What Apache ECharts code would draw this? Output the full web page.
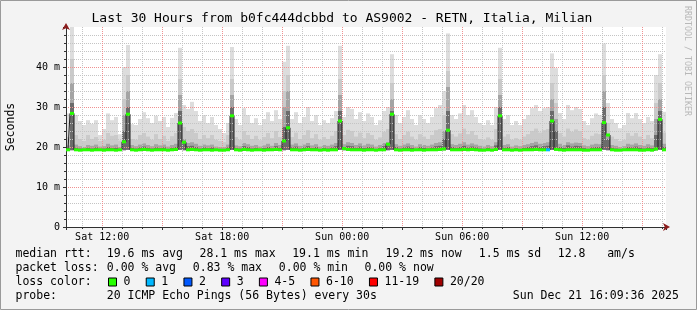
<!DOCTYPE html>
<html>
<head>
<meta charset="utf-8">
<script src="https://cdn.jsdelivr.net/npm/echarts@6/dist/echarts.min.js"></script>
<style>
html, body { margin: 0; padding: 0; background: #f3f3f3; }
#chart { width: 697px; height: 310px; }
</style>
</head>
<body>
<div id="chart"></div>
<script>
// time axis in hours since Sat 00:00, one column = 12 min
const startHour = 10.19;
const stepHours = 0.2;

const maxRtt = [
  28.4,50,28,26.5,25.5,26.7,25.8,26.7,23,24.5,
  28.4,26.7,27.5,23.2,40,45.5,25.7,25.5,27,28.7,
  27.2,26,27.8,26.5,27.5,25,27.3,28.5,44.8,30.5,
  29.5,31.3,29,26.5,28,26,27.5,25.5,24.5,23.5,
  26,45,27,25.5,29.7,28,26,27.2,25.5,27,
  28.7,26.5,29.2,27,41.3,45.3,27,28.7,26,27.5,
  30,26.5,28,25.5,26.7,26,27.2,29,45.3,27.5,
  30,29.5,27,28.7,26.5,28.4,27.5,25.5,26.7,29,
  30,43.2,28,26,27.5,29.2,27,25.5,28,27,
  26,27.5,29.7,30.5,34,48.4,28,27,28.4,30.5,
  28,29.2,27.5,26,25.5,26.7,25.5,30,44.8,27,
  28,25.5,26.5,25.5,27,28,29.7,30.5,29,29.7,
  30,43.4,39.7,28.5,27,30.5,29.2,30,29.5,26.5,
  25.5,27.2,28.4,28,45.9,31,27,26,24.7,25.5,
  28.5,27.2,28.5,27,26,27.5,26.5,38,43.2,28.8
];
const ping19 = [
  22.5,42,23,22,21.5,23,22,22.5,21.5,21.8,
  23.5,22.8,23,21.6,32,38,22,21.8,23,23.5,
  22.6,21.8,23.2,22,22.8,21.5,22.7,23.5,37,25,
  24,24.5,23.5,22,23,22.2,23,21.8,21.5,21.2,
  23,37,22.5,21.8,24,23,22,22.8,21.7,22.5,
  23.5,22.2,24,22.5,34,38,22.5,23.6,22,23,
  24.2,22.2,23.2,21.8,22.5,22,22.8,24,37,23,
  24.3,24,22.6,23.6,22.2,23.5,23,21.8,22.4,23.8,
  24.5,36,23.2,22,23,23.8,22.6,21.8,23.2,22.6,
  22,23,24.2,24.5,28,39,23.2,22.6,23.4,24.6,
  23.2,24,23,22,21.8,22.4,21.8,24.5,37,22.6,
  23.2,21.8,22.2,21.8,22.6,23.2,24,24.6,23.6,24.2,
  24.5,36,31,23.5,22.6,24.6,23.8,24.4,24,22.2,
  21.8,22.8,23.4,23.2,38,26,22.6,22,21.5,21.8,
  23.5,22.8,23.5,22.6,22,23,22.2,31,36,23.6
];
const ping17 = [
  20.4,36,20.6,20.2,20,20.5,20.3,20.6,20.1,20.2,
  20.8,20.4,20.6,20,28,34,20.5,20.2,20.6,20.9,
  20.5,20.2,20.7,20.4,20.6,20.1,20.5,20.8,33,22,
  21,21.2,20.8,20.3,20.6,20.4,20.6,20.1,20,20,
  20.6,33,20.4,20.2,21,20.7,20.3,20.5,20.1,20.4,
  20.8,20.3,21,20.5,30,34,20.6,20.9,20.3,20.6,
  21,20.4,20.7,20.1,20.5,20.3,20.6,21,33,20.7,
  21.2,21,20.5,20.9,20.4,20.8,20.6,20.1,20.5,21,
  21.2,32,20.7,20.3,20.6,20.9,20.5,20.1,20.7,20.5,
  20.3,20.6,21,21.2,24,35,20.7,20.5,20.8,21.2,
  20.6,20.9,20.6,20.3,20.1,20.5,20.2,21.2,33,20.5,
  20.7,20.1,20.4,20.2,20.5,20.7,21,21.3,20.8,21,
  21.2,32,27,20.8,20.5,21.2,20.9,21.1,21,20.4,
  20.2,20.6,20.8,20.7,34,23,20.5,20.3,20,20.2,
  20.8,20.6,20.9,20.5,20.3,20.7,20.4,27,32,20.8
];
const ping15 = [
  19.7,31,19.8,19.6,19.5,19.8,19.6,19.9,19.5,19.6,
  20,19.7,19.8,19.5,24,30,19.8,19.6,19.9,20.1,
  19.8,19.6,19.9,19.7,19.9,19.5,19.8,20,29,21,
  20.2,20.3,20,19.6,19.9,19.7,19.9,19.5,19.5,19.5,
  19.9,30,19.7,19.6,20.2,20,19.6,19.8,19.5,19.7,
  20,19.6,20.2,19.8,25,29,19.9,20.1,19.6,19.9,
  20.2,19.7,20,19.5,19.8,19.6,19.9,20.2,29,20,
  20.3,20.2,19.8,20.1,19.7,20,19.9,19.5,19.8,20.2,
  20.4,29,20,19.6,19.9,20.1,19.8,19.5,20,19.8,
  19.6,19.9,20.2,20.3,22,29,20,19.8,20,20.3,
  19.9,20.1,19.9,19.6,19.5,19.8,19.5,20.4,30,19.8,
  20,19.5,19.7,19.5,19.8,20,20.2,20.4,20,20.2,
  20.3,29,24,20,19.8,20.4,20.1,20.3,20.2,19.7,
  19.5,19.9,20,20,30,22,19.8,19.6,19.5,19.5,
  20,19.9,20.1,19.8,19.6,19.9,19.7,23,29,20
];
const minRtt = [
  19.1,19.2,19.1,19.0,19.1,19.1,19.0,19.1,19.1,19.0,
  19.1,19.1,19.0,19.1,19.2,19.3,19.1,19.0,19.1,19.1,
  19.0,19.1,19.1,19.1,19.0,19.1,19.1,19.0,19.3,19.2,
  19.1,19.1,19.0,19.1,19.1,19.0,19.1,19.1,19.0,19.1,
  19.1,19.3,19.1,19.0,19.1,19.1,19.0,19.1,19.1,19.0,
  19.1,19.1,19.0,19.1,19.2,19.3,19.1,19.0,19.1,19.1,
  19.0,19.1,19.1,19.1,19.0,19.1,19.1,19.0,19.3,19.2,
  19.1,19.1,19.0,19.1,19.1,19.0,19.1,19.1,19.0,19.1,
  19.2,19.3,19.1,19.0,19.1,19.1,19.0,19.1,19.1,19.0,
  19.1,19.1,19.0,19.1,19.2,19.3,19.1,19.0,19.1,19.1,
  19.0,19.1,19.1,19.1,19.0,19.1,19.1,19.0,19.3,19.1,
  19.1,19.1,19.0,19.1,19.1,19.0,19.1,19.1,19.0,19.1,
  19.1,19.3,19.2,19.1,19.0,19.1,19.1,19.0,19.1,19.1,
  19.0,19.1,19.1,19.1,19.3,19.2,19.1,19.0,19.1,19.1,
  19.0,19.1,19.1,19.0,19.1,19.1,19.0,19.2,19.3,19.1
];
const medianRtt = [
  19.3,28.4,19.3,19.2,19.3,19.3,19.2,19.3,19.3,19.2,
  19.3,19.3,19.2,19.3,21.3,28.2,19.3,19.2,19.3,19.4,
  19.3,19.2,19.3,19.3,19.3,19.2,19.3,19.4,26.0,21.2,
  19.3,19.4,19.3,19.2,19.3,19.3,19.2,19.3,19.2,19.2,
  19.3,27.8,19.3,19.2,19.4,19.3,19.2,19.3,19.3,19.2,
  19.3,19.3,19.4,19.3,21.5,24.8,19.3,19.3,19.2,19.3,
  19.4,19.3,19.3,19.2,19.3,19.2,19.3,19.3,26.5,19.6,
  19.4,19.3,19.3,19.3,19.2,19.3,19.3,19.2,19.3,19.3,
  20.7,28.2,19.3,19.2,19.3,19.3,19.2,19.3,19.3,19.2,
  19.3,19.3,19.3,19.4,19.5,24.2,19.3,19.3,19.3,19.4,
  19.3,19.4,19.3,19.2,19.2,19.3,19.2,19.4,27.8,19.3,
  19.3,19.2,19.3,19.2,19.3,19.3,19.3,19.4,19.3,19.3,
  19.3,26.5,19.4,19.3,19.2,19.3,19.3,19.3,19.3,19.2,
  19.2,19.3,19.3,19.3,26.1,23.0,19.3,19.2,19.2,19.3,
  19.3,19.3,19.3,19.2,19.2,19.3,19.2,19.5,26.9,19.3
];
const lossCount = [
  0,0,0,0,0,0,0,0,0,0, 0,0,0,0,0,0,0,0,0,0, 0,0,0,0,0,0,0,0,0,0,
  0,0,0,0,0,0,0,0,0,0, 0,0,0,0,0,0,0,0,0,0, 0,0,0,0,0,0,0,0,0,0,
  0,0,0,0,0,0,0,0,0,0, 0,0,0,0,0,0,0,0,0,0, 0,0,0,0,0,0,0,0,0,0,
  0,0,0,0,0,0,0,0,0,0, 0,0,0,0,0,0,0,0,0,0, 0,0,0,0,0,0,0,0,0,0,
  1,0,0,0,0,0,0,0,0,0, 0,0,0,0,0,0,0,0,0,0, 0,0,0,0,0,0,0,0,0,0
];

const lossLabels = ['0', '1', '2', '3', '4-5', '6-10', '11-19', '20/20'];
const lossUpper = [0, 1, 2, 3, 5, 10, 19, 20];
const lossColors = ['#26ff00', '#00b8ff', '#0059ff', '#5e00ff', '#ff00ff', '#ff5500', '#ff0000', '#a00000'];

const statRtt = ['19.6 ms avg', '28.1 ms max', '19.1 ms min', '19.2 ms now', '1.5 ms sd', '12.8', 'am/s'];
const statLoss = ['0.00 % avg', '0.83 % max', '0.00 % min', '0.00 % now'];
const probeText = '20 ICMP Echo Pings (56 Bytes) every 30s';
const stampText = 'Sun Dec 21 16:09:36 2025';
const titleText = 'Last 30 Hours from b0fc444dcbbd to AS9002 - RETN, Italia, Milian';

const MONO = '"DejaVu Sans Mono", monospace';
const AXIS = '#303030';
const ARROW = '#8b1c1c';
const colCenters = maxRtt.map((_, i) => startHour + stepHours * (i + 0.5));

function lossColor(n) {
  for (let k = 0; k < lossUpper.length; k++) if (n <= lossUpper[k]) return lossColors[k];
  return lossColors[lossColors.length - 1];
}

// smoke band from min ping up to the given ping level
function smoke(name, top, color) {
  return {
    type: 'custom', name: name, silent: true, z: 1,
    data: top.map((v, i) => [colCenters[i], minRtt[i], v]),
    encode: { x: 0, y: [1, 2] },
    renderItem: function (params, api) {
      const lo = api.coord([api.value(0), api.value(1)]);
      const hi = api.coord([api.value(0), api.value(2)]);
      const w = api.size([stepHours, 0])[0];
      return { type: 'rect', shape: { x: lo[0] - w / 2, y: hi[1], width: w, height: lo[1] - hi[1] },
               style: { fill: color } };
    }
  };
}

function hourLabel(v) {
  if (Math.abs(v % 6) > 1e-6) return '';
  const day = v < 24 ? 'Sat' : 'Sun';
  const h = v % 24;
  return day + ' ' + (h < 10 ? '0' : '') + h + ':00';
}

// overlay axis that only draws the red arrow head
function arrowAxis(extra) {
  return Object.assign({
    type: 'value', z: 6, silent: true,
    axisLine: { show: true, onZero: false, symbol: ['none', 'arrow'], symbolSize: [6, 7], symbolOffset: [0, 4],
                lineStyle: { color: ARROW, width: 0 } },
    axisTick: { show: false }, axisLabel: { show: false },
    splitLine: { show: false }, minorTick: { show: false }, minorSplitLine: { show: false }
  }, extra);
}

const textItems = [];
function put(x, y, text) {
  textItems.push({ type: 'text', x: x, y: y, silent: true,
    style: { text: text, font: '11.5px ' + MONO, fill: '#000', verticalAlign: 'middle' } });
}
put(15.5, 254.5, 'median rtt:');
[106.8, 199.5, 292.2, 385.5, 478.8, 557.8, 607.2].forEach((x, i) => put(x, 254.5, statRtt[i]));
put(15.5, 268.5, 'packet loss:');
[106.8, 192.8, 278.8, 364.5].forEach((x, i) => put(x, 268.5, statLoss[i]));
put(15.5, 282.5, 'loss color:');
put(15.5, 296.3, 'probe:');
put(106.8, 296.3, probeText);
put(512.8, 296.3, stampText);

const chart = echarts.init(document.getElementById('chart'));
chart.setOption({
  backgroundColor: '#f3f3f3',
  animation: false,
  title: {
    text: titleText, left: 91.5, top: 12, padding: 0,
    textStyle: { fontFamily: MONO, fontSize: 13, fontWeight: 'normal', color: '#000' }
  },
  legend: {
    left: 108, top: 275, padding: 0, icon: 'rect',
    itemWidth: 8, itemHeight: 8, itemGap: 15.3, selectedMode: false,
    textStyle: { fontFamily: MONO, fontSize: 11.5, color: '#000', lineHeight: 14, padding: [0, 0, 0, 2] },
    data: lossLabels.map((l, i) => ({ name: l, itemStyle: { color: lossColors[i], borderColor: '#000', borderWidth: 1 } }))
  },
  graphic: textItems.concat([{
    type: 'text', x: 687, y: 6, rotation: -Math.PI / 2, silent: true,
    style: { text: 'RRDTOOL / TOBI OETIKER', font: '8.3px ' + MONO, fill: '#b8b8b8', verticalAlign: 'middle' }
  }, {
    type: 'rect', silent: true, z: 100,
    shape: { x: 0.5, y: 0.5, width: 696, height: 309 },
    style: { fill: null, stroke: '#9a9a9a', lineWidth: 1 }
  }]),
  grid: { left: 66, top: 27, width: 600, height: 200, show: true, backgroundColor: '#fff', borderWidth: 0,
          outerBoundsMode: 'none', containLabel: false },
  xAxis: [{
    type: 'value', min: startHour, max: startHour + 30, splitNumber: 10, minInterval: 3, maxInterval: 3, z: 5,
    axisLine: { show: true, onZero: false, lineStyle: { color: AXIS, width: 1 } },
    axisTick: { show: true, length: 3, lineStyle: { color: AXIS } },
    minorTick: { show: true, splitNumber: 3, length: 2, lineStyle: { color: AXIS } },
    axisLabel: { formatter: hourLabel, fontFamily: MONO, fontSize: 10, color: '#000', margin: 5,
                 showMinLabel: false, showMaxLabel: false },
    splitLine: { show: true, showMinLine: false, showMaxLine: false, lineStyle: { color: '#f09090', type: [1, 1], width: 1 } },
    minorSplitLine: { show: true, lineStyle: { color: '#c4c4c4', type: [1, 1], width: 1 } }
  }, arrowAxis({ min: startHour, max: startHour + 30, position: 'bottom' })],
  yAxis: [{
    type: 'value', min: 0, max: 50, interval: 10, z: 5,
    name: 'Seconds', nameLocation: 'middle', nameGap: 49,
    nameTextStyle: { fontFamily: MONO, fontSize: 11.5, color: '#000' },
    axisLine: { show: true, lineStyle: { color: AXIS, width: 1 } },
    axisTick: { show: true, length: 3, lineStyle: { color: AXIS } },
    minorTick: { show: true, splitNumber: 5, length: 2, lineStyle: { color: AXIS } },
    axisLabel: { formatter: v => v === 0 ? '0' : (v >= 50 ? '' : v + ' m'),
                 fontFamily: MONO, fontSize: 10, color: '#000', margin: 6 },
    splitLine: { show: true, showMinLine: false, showMaxLine: false, lineStyle: { color: '#f09090', type: [1, 1], width: 1 } },
    minorSplitLine: { show: true, lineStyle: { color: '#c4c4c4', type: [1, 1], width: 1 } }
  }, arrowAxis({ min: 0, max: 50, position: 'left' })],
  series: [
    smoke('max', maxRtt, '#dddddd'),
    smoke('p19', ping19, '#cacaca'),
    smoke('p17', ping17, '#a4a4a4'),
    smoke('p15', ping15, '#6b6b6b'),
    {
      type: 'line', name: 'median', step: 'middle', z: 6, symbol: 'none', silent: true,
      data: medianRtt.map((v, i) => [colCenters[i], v]),
      lineStyle: { color: '#202020', width: 1 }
    },
    {
      type: 'custom', name: '0', z: 7, silent: true,
      data: medianRtt.map((v, i) => [colCenters[i], v, lossCount[i]]),
      encode: { x: 0, y: 1 },
      renderItem: function (params, api) {
        const p = api.coord([api.value(0), api.value(1)]);
        const w = api.size([stepHours, 0])[0];
        return { type: 'rect', shape: { x: p[0] - w / 2, y: p[1] - 1.5, width: w, height: 3 },
                 style: { fill: lossColor(api.value(2)) } };
      }
    }
  ].concat(lossLabels.slice(1).map((l, i) => ({ type: 'line', name: l, data: [], color: lossColors[i + 1] })))
});
</script>
</body>
</html>
